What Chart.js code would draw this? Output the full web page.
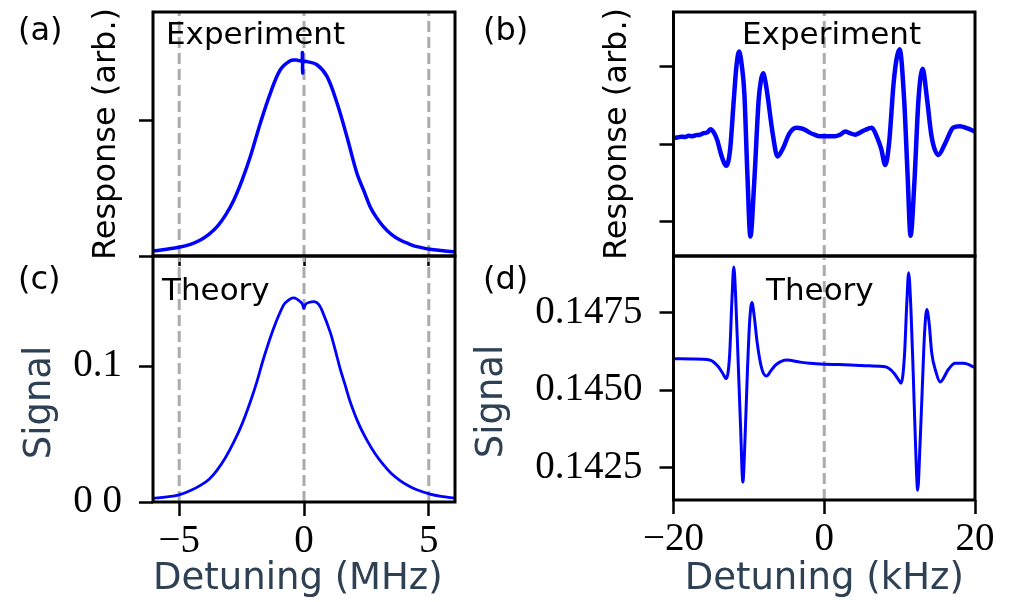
<!DOCTYPE html>
<html>
<head>
<meta charset="utf-8">
<title>Detuning response</title>
<script src="https://cdn.jsdelivr.net/npm/chart.js@4.4.1/dist/chart.umd.min.js"></script>
<style>
  html, body { margin: 0; padding: 0; background: #fff; }
  #fig { position: relative; width: 1009px; height: 602px; overflow: hidden; background: #fff; }
  #fig canvas { position: absolute; }
</style>
</head>
<body>
<div id="fig">
  <canvas id="panelA" width="470" height="290" style="left:0;top:0"></canvas>
  <canvas id="panelC" width="470" height="372" style="left:0;top:230px"></canvas>
  <canvas id="panelB" width="539" height="290" style="left:470px;top:0"></canvas>
  <canvas id="panelD" width="539" height="372" style="left:470px;top:230px"></canvas>
</div>
<script>
// (a) measured response across the wide scan (MHz)
const mhzA = [-6.05, -5.5, -5.01, -4.55, -4.15, -3.8, -3.48, -3.15, -2.81, -2.48, -2.15, -1.75, -1.35, -0.95, -0.55,
  -0.3, -0.1, -0.065, -0.05, -0.035, 0.12, 0.52, 0.92, 1.32, 1.72, 2.12, 2.4, 2.65, 2.9, 3.18, 3.5, 3.85, 4.2, 4.52,
  5.05, 5.5, 6.05];
const respA = [0.037, 0.05, 0.064, 0.086, 0.118, 0.162, 0.217, 0.30, 0.414, 0.56, 0.734, 0.98, 1.20, 1.374, 1.441,
  1.445, 1.44, 1.50, 1.35, 1.435, 1.434, 1.411, 1.325, 1.13, 0.88, 0.61, 0.48, 0.364, 0.285, 0.217, 0.16, 0.118, 0.09, 0.069,
  0.05, 0.04, 0.03];

// (c) simulated signal, same scan
const mhzC = [-6.05, -5.5, -5.01, -4.55, -4.15, -3.8, -3.48, -3.15, -2.82, -2.48, -2.15, -1.88, -1.62, -1.22, -0.82,
  -0.62, -0.44, -0.28, -0.08, -0.01, 0.06, 0.19, 0.45, 0.59, 0.72, 1.05, 1.25, 1.45, 1.65, 1.85, 2.18, 2.52, 2.85,
  3.18, 3.5, 3.85, 4.2, 4.52, 5.05, 5.5, 6.05];
const signalC = [0.0027, 0.0037, 0.0052, 0.0084, 0.0122, 0.0168, 0.0235, 0.0325, 0.0438, 0.0575, 0.0738, 0.089, 0.1056, 0.1277, 0.1449,
  0.1485, 0.1502, 0.1493, 0.1461, 0.1425, 0.1454, 0.1468, 0.1473, 0.1454, 0.141, 0.125, 0.112, 0.098, 0.086, 0.0738, 0.058, 0.0455, 0.0355,
  0.0275, 0.021, 0.0158, 0.0118, 0.009, 0.0058, 0.0041, 0.0027];

// (b) measured response, narrow scan (kHz)
const khzB = [-20, -19.5, -19, -18.5, -18, -17.5, -17, -16.5, -16, -15.5,
  -15.1, -14.6, -14.2, -13.6, -13.0, -12.5, -12.0, -11.65, -11.3, -10.95,
  -10.6, -10.2, -9.8, -9.3, -8.7, -8.4, -8.1, -7.8, -7.5, -6.85,
  -6.2, -5.5, -4.6, -3.7, -3.0, -2.5, -2.0, -1.3, -0.6, 0,
  0.7, 1.4, 2.1, 2.8, 3.4, 4.1, 4.8, 5.4, 6.3, 7.0,
  7.55, 8.1, 8.6, 9.2, 9.6, 10.0, 10.6, 11.05, 11.45, 11.95,
  12.5, 13.05, 13.6, 14.25, 15.15, 16.05, 17.1, 18.0, 19.0, 20.0];
const respB = [0.08, 0.085, 0.095, 0.09, 0.105, 0.10, 0.115, 0.12, 0.14, 0.15,
  0.19, 0.14, 0.05, -0.16, -0.28, -0.08, 0.57, 1.0, 1.19, 1.02,
  0.65, -0.38, -1.19, -0.51, 0.57, 0.82, 0.91, 0.80, 0.61, 0.14,
  -0.16, -0.06, 0.14, 0.21, 0.20, 0.18, 0.15, 0.12, 0.10, 0.10,
  0.10, 0.10, 0.12, 0.16, 0.14, 0.12, 0.15, 0.18, 0.21, 0.09,
  -0.06, -0.27, 0.01, 0.78, 1.1, 1.22, 0.57, -0.38, -1.18, -0.51,
  0.57, 0.97, 0.61, 0.09, -0.14, 0.01, 0.21, 0.23, 0.20, 0.16];

// (d) simulated signal, narrow scan
const khzD = [-20, -17.5, -15.2, -14.1, -13.5, -13.0, -12.56, -12.25, -12.0, -11.75,
  -11.45, -11.1, -10.8, -10.5, -10.2, -9.9, -9.6, -9.3, -8.9, -8.3,
  -7.67, -7.0, -6.33, -5.0, -3.2, -1.9, 0, 2, 4.07, 6,
  8.1, 9.2, 9.8, 10.2, 10.64, 10.95, 11.2, 11.5, 11.8, 12.1,
  12.4, 12.7, 13.0, 13.3, 13.6, 13.9, 14.26, 14.8, 15.37, 16.48,
  17.37, 18.5, 20];
const signalD = [0.14601, 0.14600, 0.14597, 0.14577, 0.14555, 0.14537, 0.14610, 0.14790, 0.14897, 0.14800,
  0.14610, 0.14380, 0.14203, 0.14350, 0.14556, 0.14720, 0.14782, 0.14740, 0.14653, 0.14570,
  0.14545, 0.14565, 0.14583, 0.14597, 0.14590, 0.14586, 0.14583, 0.14582, 0.14580, 0.14578,
  0.14575, 0.14556, 0.14535, 0.14522, 0.14610, 0.14780, 0.14878, 0.14760, 0.14556, 0.14330,
  0.14177, 0.14320, 0.14502, 0.14680, 0.14760, 0.14720, 0.14620, 0.14560, 0.14526, 0.14567,
  0.14586, 0.14586, 0.14572];

// dashed guide positions
const markersMHz = [-5, 0, 5];
const markersKHz = [0];

// axis ticks
const ticksMHz = [-5, 0, 5];
const ticksKHz = [-20, 0, 20];
const ticksRespA = [0, 1];
const ticksRespB = [-1, 0, 1];
const ticksSignalC = [0, 0.1];
const tickLabelsSignalC = ['0 0', '0.1'];
const ticksSignalD = [0.1425, 0.145, 0.1475];
const tickLabelsSignalD = ['0.1425', '0.1450', '0.1475'];

const SANS = "'DejaVu Sans', sans-serif";
const SERIF = "'Liberation Serif', 'DejaVu Serif', serif";
const SLATE = '#2e4053';
const BLUE = '#0000ff';

const pairs = (xs, ys) => xs.map((x, i) => ({ x, y: ys[i] }));
const minus = (v) => (v < 0 ? '\u2212' + Math.abs(v) : String(v));

// smooth: broad lineshapes use a tension spline, the narrow-scan traces stay monotone
function curve(xs, ys, width, smooth) {
  const ds = {
    data: pairs(xs, ys),
    borderColor: BLUE,
    borderWidth: width,
    pointRadius: 0,
    fill: false,
  };
  if (smooth) ds.tension = 0.35;
  else ds.cubicInterpolationMode = 'monotone';
  return ds;
}

function guides(xs, lo, hi) {
  return xs.map((x) => ({
    data: [{ x, y: lo }, { x, y: hi }],
    borderColor: '#ababab',
    borderWidth: 3,
    borderDash: [11, 5],
    pointRadius: 0,
    fill: false,
  }));
}

function axis(o) {
  const horizontal = o.position === 'bottom';
  return {
    type: 'linear',
    position: o.position,
    min: o.min,
    max: o.max,
    afterBuildTicks: (s) => { s.ticks = o.ticks.map((v) => ({ value: v })); },
    afterFit: (s) => {
      if (horizontal) s.height = o.size; else s.width = o.size;
      s.paddingLeft = s.paddingRight = s.paddingTop = s.paddingBottom = 0;
    },
    border: { display: false },
    grid: {
      display: true, drawOnChartArea: false, drawTicks: true,
      tickLength: o.tickLength, tickWidth: 2.5, tickColor: '#000', color: '#000',
    },
    ticks: {
      display: !!o.labels,
      autoSkip: false, maxRotation: 0, minRotation: 0,
      padding: horizontal ? 2 : 17,
      color: '#000',
      font: { family: SERIF, size: 39 },
      callback: (v, i) => (o.labels ? o.labels(v, i) : ''),
    },
    title: o.title ? {
      display: true,
      text: o.title,
      color: o.titleColor,
      align: o.titleAlign || 'center',
      font: { family: SANS, size: o.titleSize },
      padding: { top: o.titlePad || 0, bottom: 0 },
    } : { display: false },
  };
}

// black box round the plot area, like the other spines
const frame = {
  id: 'frame',
  afterDraw(chart) {
    const { ctx, chartArea: a } = chart;
    ctx.save();
    ctx.strokeStyle = '#000';
    ctx.lineWidth = 3;
    ctx.strokeRect(a.left, a.top, a.right - a.left, a.bottom - a.top);
    ctx.restore();
  },
};

// panel letters and in-plot captions
const panelText = {
  id: 'panelText',
  afterDraw(chart, args, opts) {
    const ctx = chart.ctx;
    (opts.items || []).forEach((t) => {
      ctx.save();
      ctx.font = t.size + 'px ' + SANS;
      ctx.fillStyle = '#000';
      ctx.textAlign = 'left';
      ctx.textBaseline = 'alphabetic';
      ctx.fillText(t.text, t.x, t.y);
      ctx.restore();
    });
  },
};

Chart.register(frame, panelText);

function makePanel(id, cfg) {
  return new Chart(document.getElementById(id), {
    type: 'line',
    data: { datasets: [cfg.curve].concat(cfg.guides) },
    options: {
      responsive: false,
      animation: false,
      devicePixelRatio: 1,
      events: [],
      layout: { padding: cfg.padding },
      scales: { x: cfg.x, y: cfg.y },
      plugins: {
        legend: { display: false },
        tooltip: { enabled: false },
        panelText: { items: cfg.text },
      },
    },
  });
}

const yA = [0, 1.8];
const yC = [0, 0.181];
const yB = [-1.441, 1.699];
const yD = [0.141452, 0.149323];

makePanel('panelA', {
  curve: curve(mhzA, respA, 3.5, true),
  guides: guides(markersMHz, yA[0], yA[1]),
  padding: { left: 0, top: 12, right: 15, bottom: 0 },
  x: axis({ position: 'bottom', min: -6.05, max: 6.05, ticks: ticksMHz, size: 34, tickLength: 10 }),
  y: axis({ position: 'left', min: yA[0], max: yA[1], ticks: ticksRespA, size: 153, tickLength: 14,
    title: 'Response (arb.)', titleColor: '#000', titleSize: 32, titlePad: 87 }),
  text: [{ text: '(a)', x: 18, y: 40, size: 32 }, { text: 'Experiment', x: 166, y: 44, size: 31 }],
});

makePanel('panelC', {
  curve: curve(mhzC, signalC, 2.8, true),
  guides: guides(markersMHz, yC[0], yC[1]),
  padding: { left: 0, top: 26, right: 15, bottom: 0 },
  x: axis({ position: 'bottom', min: -6.05, max: 6.05, ticks: ticksMHz, size: 100, tickLength: 14,
    labels: (v) => minus(v), title: 'Detuning (MHz)', titleColor: SLATE, titleSize: 37, titleAlign: 'start' }),
  y: axis({ position: 'left', min: yC[0], max: yC[1], ticks: ticksSignalC, size: 153, tickLength: 14,
    labels: (v, i) => tickLabelsSignalC[i], title: 'Signal    ', titleColor: SLATE, titleSize: 37, titlePad: 18 }),
  text: [{ text: '(c)', x: 18, y: 59, size: 32 }, { text: 'Theory', x: 162, y: 70, size: 31 }],
});

makePanel('panelB', {
  curve: curve(khzB, respB, 4.5, false),
  guides: guides(markersKHz, yB[0], yB[1]),
  padding: { left: 0, top: 12, right: 34, bottom: 0 },
  x: axis({ position: 'bottom', min: -20, max: 20, ticks: ticksKHz, size: 34, tickLength: 0 }),
  y: axis({ position: 'left', min: yB[0], max: yB[1], ticks: ticksRespB, size: 203.5, tickLength: 14,
    title: 'Response (arb.)', titleColor: '#000', titleSize: 32, titlePad: 128 }),
  text: [{ text: '(b)', x: 13, y: 40, size: 32 }, { text: 'Experiment', x: 272, y: 44, size: 31 }],
});

makePanel('panelD', {
  curve: curve(khzD, signalD, 3, false),
  guides: guides(markersKHz, yD[0], yD[1]),
  padding: { left: 0, top: 26, right: 34, bottom: 0 },
  x: axis({ position: 'bottom', min: -20, max: 20, ticks: ticksKHz, size: 102, tickLength: 14,
    labels: (v) => minus(v), title: 'Detuning (kHz)', titleColor: SLATE, titleSize: 37 }),
  y: axis({ position: 'left', min: yD[0], max: yD[1], ticks: ticksSignalD, size: 203.5, tickLength: 14,
    labels: (v, i) => tickLabelsSignalD[i], title: 'Signal    ', titleColor: SLATE, titleSize: 37, titlePad: 0 }),
  text: [{ text: '(d)', x: 13, y: 59, size: 32 }, { text: 'Theory', x: 296, y: 70, size: 31 }],
});
</script>
</body>
</html>
